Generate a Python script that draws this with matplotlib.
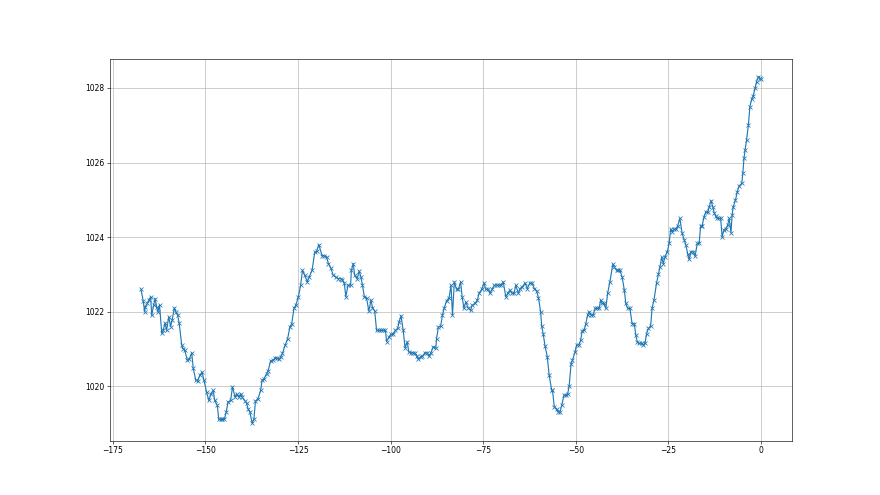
import numpy as np
import matplotlib
matplotlib.use("Agg")
import matplotlib.pyplot as plt

# hours relative to now
hours = [
    -167.4, -166.8, -166.4, -166.2, -165.7, -165.3, -164.8, -164.5, -164.0, -163.6,
    -163.2, -162.8, -162.4, -161.8, -161.4, -160.9, -160.5, -159.9, -159.4, -159.0,
    -158.4, -158.0, -157.5, -157.1, -156.4, -156.0, -155.6, -154.9, -154.4, -153.7,
    -153.3, -152.6, -152.1, -151.5, -150.9, -150.4, -149.7, -149.1, -148.5, -147.9,
    -147.5, -146.8, -146.4, -145.8, -145.4, -144.9, -144.4, -143.9, -143.2, -142.7,
    -142.0, -141.6, -141.0, -140.5, -140.1, -139.3, -138.9, -138.5, -138.0, -137.4,
    -136.9, -136.5, -135.8, -135.1, -134.7, -134.2, -133.5, -133.1, -132.4, -131.7,
    -131.1, -130.6, -130.2, -129.7, -129.2, -128.5, -127.8, -127.2, -126.7, -126.1,
    -125.6, -124.9, -124.3, -123.8, -123.2, -122.5, -122.0, -121.2, -120.5, -120.0,
    -119.4, -118.5, -117.9, -117.3, -116.8, -116.2, -115.5, -114.8, -114.2, -113.5,
    -113.0, -112.5, -112.1, -111.5, -110.8, -110.6, -110.1, -109.7, -109.0, -108.5,
    -108.0, -107.6, -107.1, -106.5, -105.9, -105.3, -104.9, -104.3, -103.8, -103.2,
    -102.6, -102.0, -101.4, -101.1, -100.5, -100.0, -99.3, -98.7, -98.1, -97.7,
    -97.2, -96.6, -96.1, -95.5, -95.1, -94.5, -93.9, -93.4, -93.0, -92.5,
    -91.9, -91.4, -90.7, -90.1, -89.7, -89.1, -88.5, -87.8, -87.6, -87.1,
    -86.5, -86.0, -85.5, -84.9, -84.2, -83.7, -83.3, -82.8, -82.2, -81.7,
    -81.1, -80.7, -80.2, -79.7, -79.0, -78.4, -78.0, -77.2, -76.6, -76.1,
    -75.4, -74.8, -74.3, -73.6, -73.2, -72.6, -72.0, -71.4, -70.8, -70.2,
    -69.6, -68.9, -68.4, -67.8, -67.2, -66.7, -66.2, -65.5, -65.1, -64.4,
    -63.7, -63.1, -62.4, -61.8, -61.2, -60.6, -60.1, -59.5, -59.2, -58.8,
    -58.3, -57.7, -57.2, -56.5, -56.3, -55.8, -55.2, -54.7, -54.3, -53.8,
    -53.2, -52.7, -52.2, -51.8, -51.3, -50.9, -50.2, -49.8, -49.1, -48.7,
    -48.3, -47.7, -47.3, -46.8, -46.4, -45.9, -45.3, -44.8, -44.4, -43.7,
    -43.3, -42.9, -42.4, -41.9, -41.4, -40.8, -40.0, -39.6, -39.0, -38.5,
    -38.1, -37.5, -36.9, -36.5, -36.0, -35.4, -34.8, -34.2, -33.8, -33.4,
    -32.9, -32.2, -31.8, -31.3, -30.9, -30.4, -29.8, -29.4, -28.9, -28.2,
    -27.7, -27.3, -26.8, -26.4, -25.9, -25.3, -24.8, -24.4, -24.0, -23.5,
    -23.0, -22.5, -21.9, -21.3, -20.7, -20.3, -19.8, -19.4, -18.9, -18.3,
    -17.8, -17.2, -16.7, -16.3, -15.9, -15.4, -14.9, -14.4, -14.0, -13.5,
    -13.0, -12.6, -12.2, -11.8, -11.3, -10.9, -10.5, -10.0, -9.5, -9.0,
    -8.6, -8.1, -7.8, -7.5, -6.9, -6.4, -5.9, -5.2, -4.9, -4.6,
    -4.3, -3.9, -3.4, -3.0, -2.5, -2.1, -1.6, -1.2, -0.7, -0.3,
    0.0,
]

# pressure (hPa)
pressure = [
    1022.60, 1022.29, 1022.00, 1022.13, 1022.22, 1022.31, 1022.40, 1021.90, 1022.17, 1022.35,
    1022.13, 1022.00, 1022.18, 1021.42, 1021.50, 1021.70, 1021.50, 1021.86, 1021.60, 1021.77,
    1022.10, 1022.00, 1021.90, 1021.70, 1021.10, 1021.00, 1020.97, 1020.70, 1020.72, 1020.90,
    1020.48, 1020.16, 1020.14, 1020.30, 1020.38, 1020.16, 1019.85, 1019.62, 1019.80, 1019.89,
    1019.62, 1019.49, 1019.11, 1019.11, 1019.11, 1019.11, 1019.31, 1019.58, 1019.62, 1019.98,
    1019.71, 1019.80, 1019.71, 1019.80, 1019.71, 1019.60, 1019.55, 1019.40, 1019.31, 1019.01,
    1019.13, 1019.60, 1019.67, 1019.89, 1020.16, 1020.20, 1020.34, 1020.41, 1020.68, 1020.70,
    1020.77, 1020.75, 1020.72, 1020.78, 1020.88, 1021.10, 1021.28, 1021.59, 1021.68, 1022.09,
    1022.17, 1022.40, 1022.71, 1023.11, 1022.98, 1022.80, 1022.93, 1023.11, 1023.59, 1023.62,
    1023.80, 1023.50, 1023.50, 1023.47, 1023.29, 1023.18, 1022.98, 1022.93, 1022.89, 1022.89,
    1022.85, 1022.76, 1022.40, 1022.71, 1022.71, 1023.11, 1023.29, 1022.98, 1022.89, 1023.09,
    1022.92, 1022.71, 1022.40, 1022.37, 1022.02, 1022.31, 1022.11, 1022.02, 1021.50, 1021.50,
    1021.50, 1021.50, 1021.50, 1021.20, 1021.31, 1021.39, 1021.39, 1021.50, 1021.55, 1021.73,
    1021.89, 1021.50, 1021.03, 1021.19, 1020.92, 1020.90, 1020.90, 1020.89, 1020.81, 1020.72,
    1020.79, 1020.81, 1020.90, 1020.90, 1020.81, 1020.90, 1021.06, 1021.02, 1021.28, 1021.59,
    1021.61, 1021.91, 1022.11, 1022.29, 1022.38, 1022.71, 1021.91, 1022.80, 1022.60, 1022.60,
    1022.80, 1022.40, 1022.09, 1022.26, 1022.09, 1022.04, 1022.17, 1022.22, 1022.31, 1022.50,
    1022.60, 1022.77, 1022.60, 1022.60, 1022.49, 1022.60, 1022.71, 1022.71, 1022.71, 1022.71,
    1022.80, 1022.40, 1022.49, 1022.58, 1022.49, 1022.49, 1022.71, 1022.49, 1022.62, 1022.67,
    1022.77, 1022.62, 1022.77, 1022.77, 1022.62, 1022.56, 1022.38, 1022.00, 1021.61, 1021.40,
    1021.07, 1020.79, 1020.30, 1019.89, 1019.89, 1019.44, 1019.38, 1019.31, 1019.31, 1019.49,
    1019.76, 1019.76, 1019.80, 1020.00, 1020.59, 1020.70, 1020.92, 1021.10, 1021.12, 1021.23,
    1021.48, 1021.52, 1021.68, 1021.91, 1022.00, 1021.91, 1021.91, 1022.09, 1022.09, 1022.09,
    1022.31, 1022.22, 1022.22, 1022.09, 1022.50, 1022.80, 1023.28, 1023.19, 1023.11, 1023.11,
    1023.11, 1022.93, 1022.58, 1022.22, 1022.09, 1022.09, 1021.68, 1021.68, 1021.37, 1021.19,
    1021.15, 1021.16, 1021.10, 1021.16, 1021.41, 1021.55, 1021.62, 1022.10, 1022.31, 1022.77,
    1023.01, 1023.19, 1023.46, 1023.29, 1023.47, 1023.61, 1023.83, 1024.21, 1024.14, 1024.21,
    1024.21, 1024.30, 1024.50, 1024.10, 1023.92, 1023.79, 1023.56, 1023.40, 1023.61, 1023.61,
    1023.49, 1023.83, 1023.83, 1024.30, 1024.30, 1024.53, 1024.68, 1024.66, 1024.81, 1024.98,
    1024.81, 1024.64, 1024.56, 1024.50, 1024.50, 1024.50, 1024.01, 1024.19, 1024.23, 1024.32,
    1024.50, 1024.12, 1024.59, 1024.81, 1024.99, 1025.22, 1025.37, 1025.44, 1025.71, 1026.11,
    1026.34, 1026.60, 1027.01, 1027.50, 1027.70, 1027.79, 1027.99, 1028.17, 1028.30, 1028.26,
    1028.23,
]

fig, ax = plt.subplots(figsize=(16, 9), dpi=55)
ax.plot(hours, pressure, marker='x')
ax.grid(True)

fig.savefig("out.png", dpi=55)
